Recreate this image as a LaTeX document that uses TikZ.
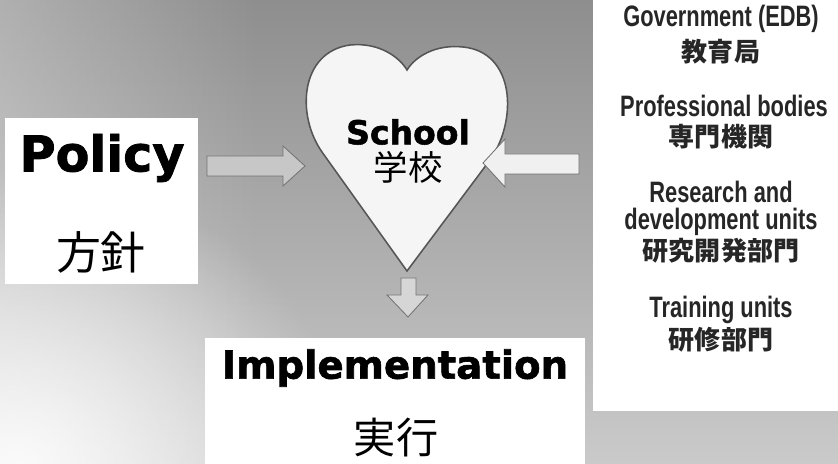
\documentclass[tikz,border=0pt]{standalone}
\usepackage{fontspec}
\usepackage{xcolor}
\usepackage{tikz}
\usetikzlibrary{shapes,arrows,positioning,fadings}
\setmainfont{Liberation Sans}
\newfontfamily\heavyfont[BoldFeatures={FakeBold=1.6}]{DejaVu Sans}
\newfontfamily\narrowfont[FakeStretch=0.74]{Liberation Sans}
\newfontfamily\cjkfont{Noto Sans CJK JP}
\definecolor{bgtop}{HTML}{8E8E8E}
\definecolor{bgbottom}{HTML}{CACACA}
\definecolor{heartline}{HTML}{555555}
\tikzfading[name=softglow, inner color=transparent!0, outer color=transparent!100]

\begin{document}
\begin{tikzpicture}[
    x=0.025cm, y=-0.025cm,
    whitebox/.style={rectangle, fill=white, inner sep=0pt},
    bigword/.style={font=\heavyfont\bfseries\fontsize{#1}{#1}\selectfont, inner sep=0pt},
    bigcjk/.style={font=\cjkfont\fontsize{#1}{#1}\selectfont, inner sep=0pt},
    agency/.style={font=\narrowfont\bfseries\fontsize{21}{24}\selectfont, text=black!85, inner sep=0pt},
    agencycjk/.style={font=\cjkfont\bfseries\fontsize{18.5}{22}\selectfont, text=black!85, inner sep=0pt},
    blockarrow/.style={draw=black!55, line width=0.6pt, line join=miter}
]
\useasboundingbox (0,0) rectangle (838,464);
% background
\fill[top color=bgtop, bottom color=bgbottom] (0,0) rectangle (838,464);
\fill[white, opacity=0.3, path fading=east] (0,0) rectangle (260,464);
\fill[white, opacity=0.9, path fading=softglow]
    (20,470) ellipse [x radius=330, y radius=300];

% boxes
\node[whitebox, minimum width=4.825cm, minimum height=4.15cm] (policybox) at (101.5,201) {};
\node[whitebox, minimum width=9.5cm, minimum height=3.15cm] (implbox) at (395,401) {};
\node[whitebox, minimum width=6.125cm, minimum height=10.275cm] (unitbox) at (715.5,205.5) {};

% heart
\draw[heartline, line width=1.1pt, fill=black!4]
    (407,271) -- (322,152)
    .. controls (296,115) and (300,52) .. (350,45)
    .. controls (380,42) and (400,58) .. (407,70)
    .. controls (415,57) and (435,44) .. (463,47)
    .. controls (515,52) and (518,120) .. (490,160) -- cycle;
\node[bigword=23.5] (school) at (408,132) {School};
\node[bigcjk=24.5, below=4pt of school] (schoolcjk) {学校};

% arrows
\draw[blockarrow, fill=black!22] (207,156) -- (283,156) -- (283,146) -- (305,166)
    -- (283,186) -- (283,176) -- (207,176) -- cycle;
\draw[blockarrow, fill=black!6] (579,154) -- (505,154) -- (505,139) -- (483,163)
    -- (505,187) -- (505,174) -- (579,174) -- cycle;
\draw[blockarrow, fill=black!16] (401,278) -- (416,278) -- (416,295) -- (428,295)
    -- (408,317) -- (387,295) -- (401,295) -- cycle;

% policy
\node[bigword=35] (policy) at (102,158) {Policy};
\node[bigcjk=32] (policycjk) at (101,252) {方針};

% implementation
\node[bigword=27.5] (impl) at (395,368) {Implementation};
\node[bigcjk=30] (implcjk) at (396,438) {実行};

% supporting units
\node[agency] (gov) at (721,19) {Government (EDB)};
\node[agencycjk] (govcjk) at (721,52) {教育局};
\node[agency] (prof) at (724,106) {Professional bodies};
\node[agencycjk] (profcjk) at (721,137) {専門機関};
\node[agency] (rnd) at (721,192) {Research and};
\node[agency] (rndb) at (721,222) {development units};
\node[agencycjk] (rndcjk) at (721,251) {研究開発部門};
\node[agency] (train) at (721,310) {Training units};
\node[agencycjk] (traincjk) at (721,340) {研修部門};
\end{tikzpicture}
\end{document}
